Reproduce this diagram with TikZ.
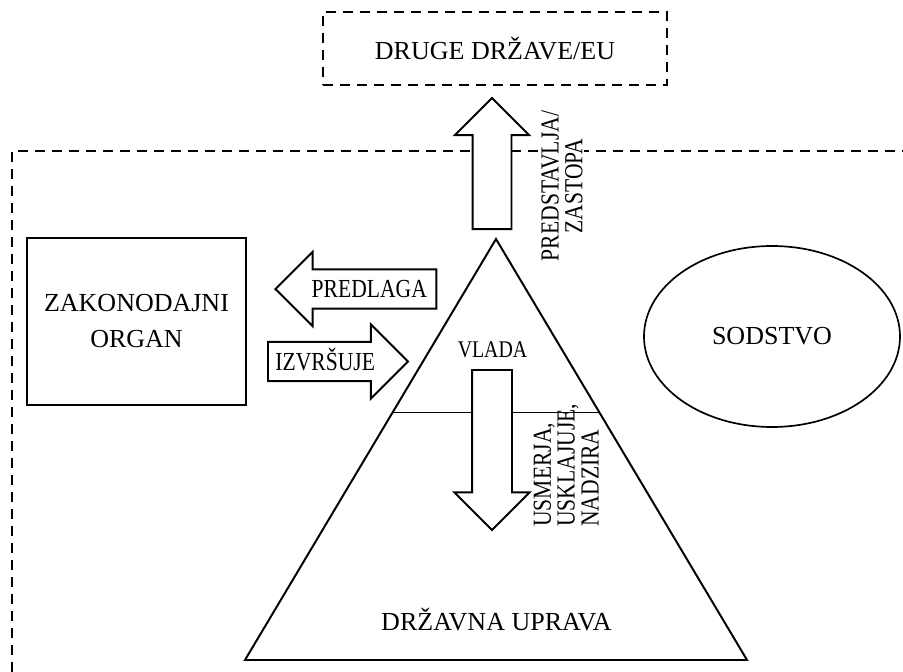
\documentclass[tikz,border=0pt]{standalone}
\usepackage{fontspec}
\setmainfont{Liberation Serif}
\newfontfamily\narrowserif[FakeStretch=0.83]{Liberation Serif}
\usetikzlibrary{shapes.arrows,shapes.geometric,calc}

\tikzset{
	frame/.style={dash pattern=on 2.5mm off 1.75mm, line width=1.6pt},
	blockarrow/.style={draw, fill=white, single arrow, single arrow head extend=4.4mm, inner xsep=0pt, line width=1.4pt},
	textarrow/.style={blockarrow, font={\narrowserif\fontsize{18.5}{20}\selectfont}, text height=4.3mm, text depth=0mm, inner ysep=2.5mm, inner xsep=1mm},
	sidelabel/.style={rotate=90, font={\narrowserif\fontsize{18.5}{17}\selectfont}, inner sep=1pt}
}

\begin{document}
\begin{tikzpicture}[x=0.25mm, y=-0.25mm, line width=1.4pt, font={\fontsize{18.5}{25.6}\selectfont}]
		\useasboundingbox (0,0) rectangle (903,672);
		%outer frame
		\draw[frame] (12,672) -- (12,151) -- (910,151);
		
		%other states
		\node[draw, frame, minimum width=86mm, minimum height=18.25mm] (druge) at (495,48.5) {DRUGE DRŽAVE/EU};
		
		%legislature and judiciary
		\node[draw, line width=1.5pt, align=center, minimum width=54.75mm, minimum height=41.75mm] (zakonodajni) at (136.5,321.5) {ZAKONODAJNI\\ORGAN};
		\node[draw, ellipse, inner sep=0pt, line width=1.2pt, minimum width=64mm, minimum height=45.25mm] (sodstvo) at (772,336.5) {SODSTVO};
		
		%pyramid
		\coordinate (vrh) at (496,239);
		\coordinate (levo) at (245,660);
		\coordinate (desno) at (747,660);
		\draw (levo) -- (vrh) -- (desno) -- cycle;
		\draw[line width=0.6pt] ($(vrh)!0.411!(levo)$) -- ($(vrh)!0.411!(desno)$);
		\node[font={\narrowserif\fontsize{17}{20}\selectfont}] (vlada) at (492.5,349.5) {VLADA};
		\node[anchor=base] (uprava) at (496.5,630) {DRŽAVNA UPRAVA};
		
		%arrows
		\node[blockarrow, rotate=90, minimum height=32.75mm, inner ysep=4.625mm, anchor=tail] (predstavlja) at (492,230) {};
		\node[sidelabel, fill=white, align=center] (predstavljalbl) at (562,186) {PREDSTAVLJA/\\ZASTOPA};
		\node[blockarrow, rotate=-90, minimum height=40mm, inner ysep=4.75mm, anchor=tail] (usmerja) at (492,369) {};
		\node[sidelabel, align=left, anchor=south west] (usmerjalbl) at (601,529) {USMERJA,\\USKLAJUJE,\\NADZIRA};
		\node[textarrow, shape border rotate=180, minimum height=40.25mm, anchor=tip] (predlaga) at (274,289) {\hspace*{1.8mm}PREDLAGA};
		\node[textarrow, minimum height=35mm, anchor=tail] (izvrsuje) at (267,361.5) {IZVRŠUJE\hspace*{1.5mm}};
\end{tikzpicture}
\end{document}
